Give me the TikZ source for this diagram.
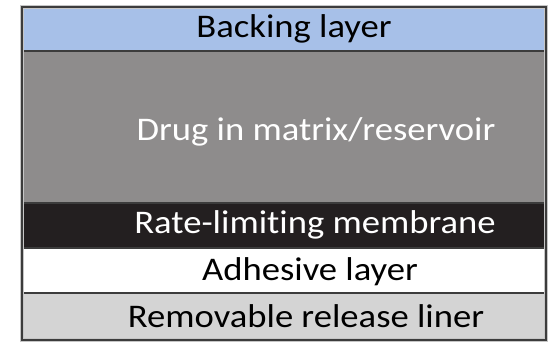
\documentclass[tikz,border=0pt]{standalone}
\usepackage{fontspec}
\setmainfont{Carlito}[FakeStretch=1.11, Ligatures=NoCommon]
\usepackage{xcolor}
\usepackage{tikz}
\usetikzlibrary{positioning}

\definecolor{backblue}{HTML}{A7C0E8}
\definecolor{druggray}{HTML}{8E8C8C}
\definecolor{membraneblack}{HTML}{231F20}
\definecolor{linergray}{HTML}{D4D4D4}
\definecolor{edgegray}{HTML}{3C3C3C}

\begin{document}
\begin{tikzpicture}[x=1pt, y=-1pt,
    layer/.style={draw=edgegray, line width=1.5pt, rectangle, minimum width=522pt, inner sep=0pt},
    caption/.style={anchor=base, inner sep=0pt, font=\fontsize{33}{36}\selectfont}]
    \useasboundingbox (0,0) rectangle (550,342);

    % Layers
    \node[layer, fill=backblue, minimum height=43pt] (backing) at (284, 29.5) {};
    \node[layer, fill=druggray, minimum height=152pt] (drug) at (284, 127) {};
    \node[layer, fill=membraneblack, minimum height=45pt] (membrane) at (284, 225.5) {};
    \node[layer, fill=white, minimum height=45pt] (adhesive) at (284, 270.5) {};
    \node[layer, fill=linergray, minimum height=46pt] (liner) at (284, 316) {};

    % Frame
    \draw[gray!45, line width=4pt] (backing.north west) rectangle (liner.south east);
    \draw[edgegray, line width=2.2pt] (backing.north west) rectangle (liner.south east);

    % Labels
    \node[caption] (backinglabel) at (294, 37.5) {Backing layer};
    \node[caption, text=white] (druglabel) at (316, 140.5) {Drug in matrix/reservoir};
    \node[caption, text=white] (membranelabel) at (315, 233.5) {Rate-limiting membrane};
    \node[caption] (adhesivelabel) at (310, 280.5) {Adhesive layer};
    \node[caption] (linerlabel) at (306, 327.5) {Removable release liner};
\end{tikzpicture}
\end{document}
